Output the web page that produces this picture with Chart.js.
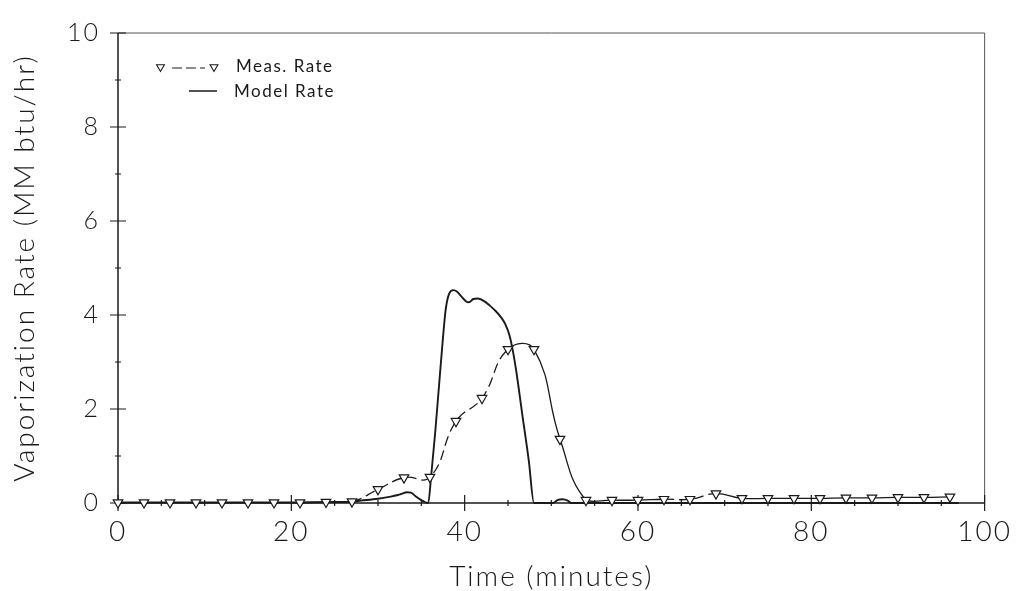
<!DOCTYPE html>
<html>
<head>
<meta charset="utf-8">
<script src="https://cdn.jsdelivr.net/npm/chart.js@4/dist/chart.umd.min.js"></script>
<style>
    html, body { margin: 0; padding: 0; background: #fff; }
    #wrap { width: 1021px; height: 591px; position: relative; }
</style>
</head>
<body>
<div id="wrap"><canvas id="rateChart"></canvas></div>
<script>
// measured rate, one reading every 3 minutes
const MEAS_TIME = [0, 3, 6, 9, 12, 15, 18, 21, 24, 27, 30, 33, 36, 39, 42, 45, 48, 51, 54, 57, 60, 63, 66, 69, 72, 75, 78, 81, 84, 87, 90, 93, 96];
const MEAS_RATE = [0.01, 0.01, 0.01, 0.01, 0.01, 0.01, 0.01, 0.01, 0.02, 0.03, 0.29, 0.54, 0.55, 1.74, 2.23, 3.27, 3.27, 1.36, 0.06, 0.06, 0.06, 0.08, 0.08, 0.2, 0.1, 0.1, 0.1, 0.1, 0.11, 0.11, 0.12, 0.12, 0.13];

// model curve
const MODEL_TIME = [0, 10, 20, 25, 27, 28, 30, 31.3, 32.3, 32.8, 33.3, 33.8, 34.3, 35.0, 35.4, 35.8, 36.1, 36.6, 37.0, 37.4, 37.8, 38.2, 38.7, 39.1, 39.6, 40.1, 40.5, 41.0, 41.5, 42.2, 42.9, 43.6, 44.2, 44.7, 45.2, 45.6, 46.0, 46.6, 47.4, 48.0, 50.2, 50.7, 51.3, 51.9, 52.3, 60, 70, 80, 90, 97];
const MODEL_RATE = [0.01, 0.01, 0.01, 0.02, 0.03, 0.05, 0.09, 0.13, 0.17, 0.2, 0.23, 0.22, 0.15, 0.06, 0.02, 0.0, 0.5, 1.5, 2.4, 3.3, 4.1, 4.45, 4.53, 4.5, 4.4, 4.3, 4.27, 4.34, 4.35, 4.3, 4.2, 4.08, 3.95, 3.8, 3.55, 3.2, 2.75, 1.95, 0.9, 0.0, 0.0, 0.06, 0.08, 0.05, 0.0, 0.0, 0.0, 0.0, 0.0, 0.0];

const X_TICKS = [0, 20, 40, 60, 80, 100];
const X_MINOR = [5, 10, 15, 25, 30, 35, 45, 50, 55, 65, 70, 75, 85, 90, 95];
const Y_TICKS = [0, 2, 4, 6, 8, 10];
const Y_MINOR = [1, 3, 5, 7, 9];

const X_TITLE = 'Time (minutes)';
const Y_TITLE = 'Vaporization Rate (MM btu/hr)';
const MEAS_LABEL = 'Meas. Rate';
const MODEL_LABEL = 'Model Rate';

(function () {
    'use strict';

    const INK = '#1a1a1a';
    const FONT = 'Lato';

    function toPoints(xs, ys) {
        return xs.map((x, i) => ({ x, y: ys[i] }));
    }

    // dashed pieces of the measured line
    function isDashed(ctx) {
        const x0 = ctx.p0.parsed.x;
        return (x0 >= 27 && x0 < 45) || (x0 >= 63 && x0 < 69);
    }

    const letterSpacing = {
        id: 'letterSpacing',
        beforeDraw(chart) {
            chart.ctx.letterSpacing = '2px';
        },
    };

    const axisFrame = {
        id: 'axisFrame',
        beforeDatasetsDraw(chart) {
            const { ctx, chartArea: a, scales: { x, y } } = chart;
            ctx.save();

            ctx.strokeStyle = '#555';
            ctx.lineWidth = 1;
            ctx.beginPath();
            ctx.moveTo(a.left, a.top);
            ctx.lineTo(a.right, a.top);
            ctx.lineTo(a.right, a.bottom);
            ctx.stroke();

            ctx.strokeStyle = INK;
            ctx.lineWidth = 1.5;
            ctx.beginPath();
            ctx.moveTo(a.left, a.top);
            ctx.lineTo(a.left, a.bottom);
            ctx.lineTo(a.right, a.bottom);
            ctx.stroke();

            ctx.lineWidth = 1.2;
            ctx.beginPath();
            X_TICKS.forEach(v => {
                const px = x.getPixelForValue(v);
                ctx.moveTo(px, a.bottom - 8);
                ctx.lineTo(px, a.bottom + 8);
            });
            X_MINOR.forEach(v => {
                const px = x.getPixelForValue(v);
                ctx.moveTo(px, a.bottom - 3);
                ctx.lineTo(px, a.bottom + 3);
            });
            Y_TICKS.forEach(v => {
                const py = y.getPixelForValue(v);
                ctx.moveTo(a.left - 8, py);
                ctx.lineTo(a.left + 8, py);
            });
            Y_MINOR.forEach(v => {
                const py = y.getPixelForValue(v);
                ctx.moveTo(a.left - 3, py);
                ctx.lineTo(a.left + 3, py);
            });
            ctx.stroke();
            ctx.restore();
        },
    };

    function drawTriangle(ctx, cx, cy, r) {
        ctx.beginPath();
        ctx.moveTo(cx - r * 0.87, cy - r * 0.5);
        ctx.lineTo(cx + r * 0.87, cy - r * 0.5);
        ctx.lineTo(cx, cy + r);
        ctx.closePath();
        ctx.fillStyle = '#fff';
        ctx.fill();
        ctx.stroke();
    }

    const legendBox = {
        id: 'legendBox',
        afterDraw(chart) {
            const ctx = chart.ctx;
            const sets = chart.data.datasets;
            ctx.save();
            ctx.strokeStyle = INK;
            ctx.lineWidth = 1.1;

            drawTriangle(ctx, 160.5, 67, 4.5);
            ctx.setLineDash([10, 4]);
            ctx.beginPath();
            ctx.moveTo(172, 68);
            ctx.lineTo(205, 68);
            ctx.stroke();
            ctx.setLineDash([]);
            drawTriangle(ctx, 214, 67, 4.5);

            ctx.lineWidth = 1.5;
            ctx.beginPath();
            ctx.moveTo(189, 91);
            ctx.lineTo(217, 91);
            ctx.stroke();

            ctx.fillStyle = INK;
            ctx.font = '17px ' + FONT;
            ctx.letterSpacing = '1.5px';
            ctx.textBaseline = 'middle';
            ctx.textAlign = 'left';
            ctx.fillText(sets[0].label, 236, 67);
            ctx.fillText(sets[1].label, 234, 92);
            ctx.restore();
        },
    };

    const tickFont = size => ({ family: FONT, size, weight: 300 });

    new Chart(document.getElementById('rateChart'), {
        type: 'line',
        data: {
            datasets: [
                {
                    label: MEAS_LABEL,
                    data: toPoints(MEAS_TIME, MEAS_RATE),
                    borderColor: INK,
                    borderWidth: 1.3,
                    tension: 0.45,
                    pointStyle: 'triangle',
                    pointRotation: 180,
                    pointRadius: 5.5,
                    pointBackgroundColor: '#fff',
                    pointBorderColor: INK,
                    pointBorderWidth: 1.2,
                    clip: 10,
                    segment: {
                        borderDash: ctx => (isDashed(ctx) ? [10, 5] : undefined),
                    },
                    order: 0,
                },
                {
                    label: MODEL_LABEL,
                    data: toPoints(MODEL_TIME, MODEL_RATE),
                    borderColor: INK,
                    borderWidth: 1.9,
                    cubicInterpolationMode: 'monotone',
                    pointRadius: 0,
                    clip: 4,
                    order: 1,
                },
            ],
        },
        options: {
            responsive: true,
            maintainAspectRatio: false,
            animation: false,
            layout: {
                padding: { left: 0, top: 22, right: 33, bottom: 0 },
            },
            plugins: {
                legend: { display: false },
                tooltip: { enabled: false },
            },
            scales: {
                x: {
                    type: 'linear',
                    min: 0,
                    max: 100,
                    afterBuildTicks: s => { s.ticks = X_TICKS.map(value => ({ value })); },
                    afterFit: s => { s.height = 88; },
                    grid: { display: false, drawTicks: false },
                    border: { display: false },
                    ticks: {
                        padding: 12,
                        color: INK,
                        autoSkip: false,
                        maxRotation: 0,
                        font: tickFont(28),
                    },
                    title: {
                        display: true,
                        text: X_TITLE,
                        color: INK,
                        padding: 0,
                        font: { family: FONT, size: 28, weight: 300, lineHeight: 1 },
                    },
                },
                y: {
                    type: 'linear',
                    min: 0,
                    max: 10,
                    afterBuildTicks: s => { s.ticks = Y_TICKS.map(value => ({ value })); },
                    afterFit: s => { s.width = 118; },
                    grid: { display: false, drawTicks: false },
                    border: { display: false },
                    ticks: {
                        padding: 18,
                        color: INK,
                        font: tickFont(25),
                    },
                    title: {
                        display: true,
                        text: Y_TITLE,
                        color: INK,
                        padding: { top: 11, bottom: 0 },
                        font: { family: FONT, size: 28, weight: 300, lineHeight: 1 },
                    },
                },
            },
        },
        plugins: [letterSpacing, axisFrame, legendBox],
    });
})();
</script>
</body>
</html>
